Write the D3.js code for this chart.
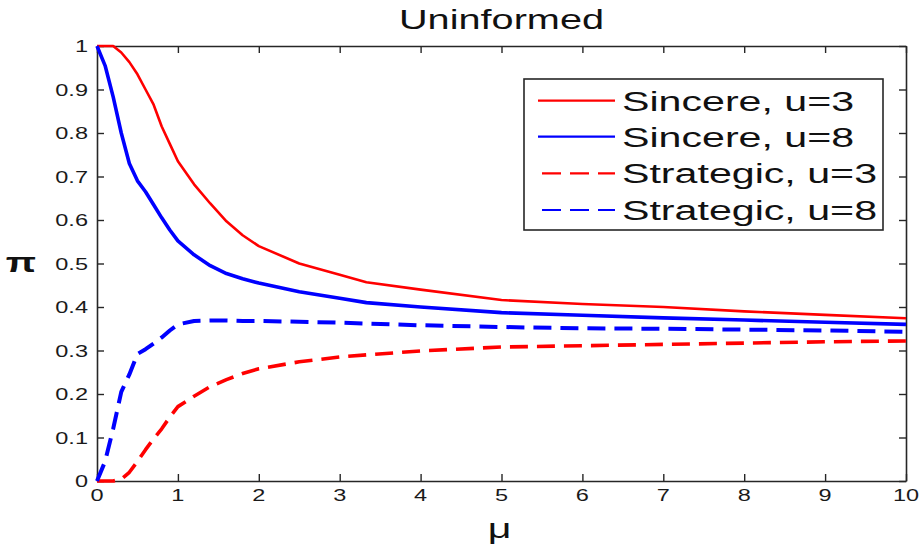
<!DOCTYPE html>
<html>
<head>
<meta charset="utf-8">
<script src="https://cdn.jsdelivr.net/npm/d3@7"></script>
<style>
  html, body { margin: 0; padding: 0; background: #fff; }
  svg { display: block; }
  text { font-family: "Liberation Sans", Arial, Helvetica, sans-serif; }
</style>
</head>
<body>
<svg id="chart" width="920" height="544"></svg>
<script>
// ---- data ----
const mu = [0, 0.1, 0.2, 0.3, 0.4, 0.5, 0.6, 0.7, 0.8, 0.9, 1.0, 1.2, 1.4, 1.6, 1.8, 2.0, 2.5, 3.0, 3.33, 4, 5, 6, 7, 8, 9, 10];
const sincereU3 = [1, 1, 1, 0.985, 0.963, 0.935, 0.9, 0.865, 0.815, 0.775, 0.735, 0.682, 0.638, 0.597, 0.565, 0.54, 0.5, 0.474, 0.457, 0.44, 0.416, 0.407, 0.4, 0.39, 0.382, 0.374];
const sincereU8 = [1, 0.955, 0.883, 0.8, 0.73, 0.69, 0.665, 0.635, 0.605, 0.577, 0.552, 0.52, 0.495, 0.477, 0.465, 0.455, 0.435, 0.42, 0.41, 0.4, 0.387, 0.381, 0.375, 0.37, 0.365, 0.36];
const strategicU3 = [0, 0, 0, 0.004, 0.02, 0.045, 0.072, 0.097, 0.12, 0.147, 0.171, 0.195, 0.217, 0.233, 0.247, 0.258, 0.274, 0.285, 0.29, 0.299, 0.308, 0.311, 0.314, 0.317, 0.32, 0.322];
const strategicU8 = [0, 0.045, 0.12, 0.205, 0.245, 0.292, 0.303, 0.316, 0.33, 0.346, 0.36, 0.368, 0.369, 0.369, 0.368, 0.368, 0.366, 0.364, 0.362, 0.358, 0.354, 0.351, 0.35, 0.348, 0.346, 0.343];
const seriesNames = ["Sincere, u=3", "Sincere, u=8", "Strategic, u=3", "Strategic, u=8"];
const xTicks = [0, 1, 2, 3, 4, 5, 6, 7, 8, 9, 10];
const yTicks = [0, 0.1, 0.2, 0.3, 0.4, 0.5, 0.6, 0.7, 0.8, 0.9, 1];
const titleText = "Uninformed";
const xLabel = "\u03bc";
const yLabel = "\u03c0";

// ---- layout ----
const svg = d3.select("#chart");
const L = 97, R = 906, T = 46, B = 481;
const SX = 1.47; // horizontal stretch of text in reference
const x = d3.scaleLinear().domain([0, 10]).range([L, R]);
const y = d3.scaleLinear().domain([0, 1]).range([B, T]);
const axisColor = "#262626";

const series = [
  { name: seriesNames[0], values: sincereU3, color: "#ff0000", width: 2.6, dash: null },
  { name: seriesNames[1], values: sincereU8, color: "#0000ff", width: 3.6, dash: null },
  { name: seriesNames[2], values: strategicU3, color: "#ff0000", width: 3.6, dash: "18,9" },
  { name: seriesNames[3], values: strategicU8, color: "#0000ff", width: 4, dash: "18,9" }
];

function stretchedText(g, tx, ty, str, size, anchor, extra) {
  const t = g.append("text")
    .attr("transform", `translate(${tx},${ty}) scale(${SX},1)`)
    .attr("font-size", size)
    .attr("text-anchor", anchor)
    .text(str);
  if (extra) extra(t);
  return t;
}

// axes with inward ticks on all sides
const tickLen = 7;
const xAxisB = d3.axisBottom(x).tickValues(xTicks).tickSizeInner(-tickLen).tickSizeOuter(0).tickFormat("");
const xAxisT = d3.axisTop(x).tickValues(xTicks).tickSizeInner(-tickLen).tickSizeOuter(0).tickFormat("");
const yAxisL = d3.axisLeft(y).tickValues(yTicks).tickSizeInner(-tickLen).tickSizeOuter(0).tickFormat("");
const yAxisR = d3.axisRight(y).tickValues(yTicks).tickSizeInner(-tickLen).tickSizeOuter(0).tickFormat("");

const axG = svg.append("g");
axG.append("g").attr("transform", `translate(0,${B})`).call(xAxisB);
axG.append("g").attr("transform", `translate(0,${T})`).call(xAxisT);
axG.append("g").attr("transform", `translate(${L},0)`).call(yAxisL);
axG.append("g").attr("transform", `translate(${R},0)`).call(yAxisR);
axG.selectAll(".domain").attr("stroke", axisColor).attr("stroke-width", 1.6);
axG.selectAll(".tick line").attr("stroke", axisColor).attr("stroke-width", 1.4);

// tick labels
const lab = svg.append("g").attr("fill", "#1a1a1a");
xTicks.forEach(v => stretchedText(lab, x(v), B + 20, String(v), 16, "middle"));
yTicks.forEach(v => stretchedText(lab, L - 9, y(v) + 6, String(v), 16, "end"));

// lines
const line = d3.line().x((d, i) => x(mu[i])).y(d => y(d));
const plotG = svg.append("g");
series.forEach(s => {
  plotG.append("path")
    .datum(s.values)
    .attr("d", line)
    .attr("fill", "none")
    .attr("stroke", s.color)
    .attr("stroke-width", s.width)
    .attr("stroke-linejoin", "round")
    .attr("stroke-dasharray", s.dash);
});

// title and labels
stretchedText(svg, (L + R) / 2, 29, titleText, 27, "middle", t => t.attr("fill", "#111"));
stretchedText(svg, (L + R) / 2 - 2, 538, xLabel, 28, "middle", t => t.attr("font-family", "DejaVu Serif, serif").attr("fill", "#111"));
stretchedText(svg, 21, 272, yLabel, 27, "middle", t => t.attr("font-family", "DejaVu Serif, serif").attr("font-weight", "bold").attr("fill", "#111"));

// legend
const lg = svg.append("g");
lg.append("rect").attr("x", 524).attr("y", 79).attr("width", 359).attr("height", 151)
  .attr("fill", "#fff").attr("stroke", axisColor).attr("stroke-width", 1.6);
const rowY = [100.7, 136.7, 173.3, 210];
series.forEach((s, i) => {
  lg.append("line").attr("x1", 538).attr("x2", 615).attr("y1", rowY[i]).attr("y2", rowY[i])
    .attr("stroke", s.color).attr("stroke-width", 2.2)
    .attr("stroke-dasharray", s.dash ? "19,9" : null)
    .attr("stroke-dashoffset", s.dash ? -4 : 0);
  stretchedText(lg, 622, rowY[i] + 10, s.name, 28, "start", t => t.attr("fill", "#111"));
});
</script>
</body>
</html>
